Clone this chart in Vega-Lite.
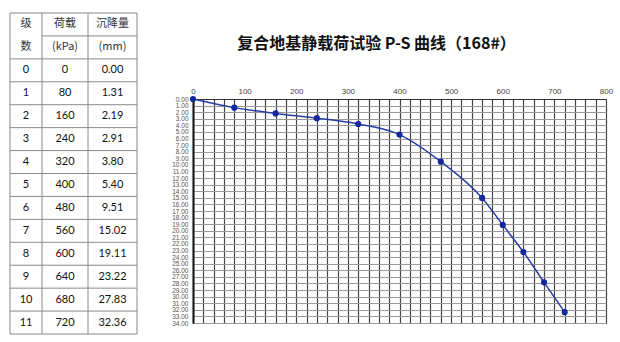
{
  "$schema": "https://vega.github.io/schema/vega-lite/v6.json",
  "background": "white",
  "padding": {"left": 9, "top": 12, "right": 5, "bottom": 5},
  "spacing": 33,
  "config": {"view": {"stroke": null}},
  "datasets": {
    "ps": [
      {"lvl": 0, "p": 0, "s": 0.00},
      {"lvl": 1, "p": 80, "s": 1.31},
      {"lvl": 2, "p": 160, "s": 2.19},
      {"lvl": 3, "p": 240, "s": 2.91},
      {"lvl": 4, "p": 320, "s": 3.80},
      {"lvl": 5, "p": 400, "s": 5.40},
      {"lvl": 6, "p": 480, "s": 9.51},
      {"lvl": 7, "p": 560, "s": 15.02},
      {"lvl": 8, "p": 600, "s": 19.11},
      {"lvl": 9, "p": 640, "s": 23.22},
      {"lvl": 10, "p": 680, "s": 27.83},
      {"lvl": 11, "p": 720, "s": 32.36}
    ],
    "hdr": [
      {"t": "级", "c": 0.5, "r": -2},
      {"t": "数", "c": 0.5, "r": -1},
      {"t": "荷载", "c": 1.5, "r": -2},
      {"t": "(kPa)", "c": 1.5, "r": -1},
      {"t": "沉降量", "c": 2.5, "r": -2},
      {"t": "(mm)", "c": 2.5, "r": -1}
    ]
  },
  "hconcat": [
    {
      "width": 127,
      "height": 235,
      "view": {"stroke": null},
      "data": {"name": "ps"},
      "encoding": {
        "x": {"type": "quantitative", "scale": {"domain": [0, 1, 2, 3], "range": [0, 32, 78, 127]}, "axis": null},
        "y": {"type": "quantitative", "scale": {"domain": [1.751, 12], "reverse": true, "nice": false, "zero": false}, "axis": null}
      },
      "layer": [
        {
          "mark": {"type": "rule", "color": "#8a8a8a", "strokeWidth": 1},
          "encoding": {"y": {"field": "lvl"}, "x": {"datum": 0}, "x2": {"datum": 3}}
        },
        {
          "data": {"values": [{}]},
          "mark": {"type": "rule", "color": "#8a8a8a", "strokeWidth": 1},
          "encoding": {"y": {"datum": 12}, "x": {"datum": 0}, "x2": {"datum": 3}}
        },
        {
          "data": {"values": [{}]},
          "mark": {"type": "rule", "color": "#8a8a8a", "strokeWidth": 1},
          "encoding": {"y": {"datum": -2}, "x": {"datum": 0}, "x2": {"datum": 3}}
        },
        {
          "data": {"values": [{}]},
          "mark": {"type": "rule", "color": "#8a8a8a", "strokeWidth": 1},
          "encoding": {"y": {"datum": -1}, "x": {"datum": 1}, "x2": {"datum": 3}}
        },
        {
          "data": {"values": [{}]},
          "mark": {"type": "rule", "color": "#8a8a8a", "strokeWidth": 1},
          "encoding": {"x": {"datum": 0}, "y": {"datum": -2}, "y2": {"datum": 12}}
        },
        {
          "data": {"values": [{}]},
          "mark": {"type": "rule", "color": "#8a8a8a", "strokeWidth": 1},
          "encoding": {"x": {"datum": 1}, "y": {"datum": -2}, "y2": {"datum": 12}}
        },
        {
          "data": {"values": [{}]},
          "mark": {"type": "rule", "color": "#8a8a8a", "strokeWidth": 1},
          "encoding": {"x": {"datum": 2}, "y": {"datum": -2}, "y2": {"datum": 12}}
        },
        {
          "data": {"values": [{}]},
          "mark": {"type": "rule", "color": "#8a8a8a", "strokeWidth": 1},
          "encoding": {"x": {"datum": 3}, "y": {"datum": -2}, "y2": {"datum": 12}}
        },
        {
          "mark": {"type": "text", "font": "Lato", "fontSize": 11, "color": "#111", "baseline": "middle", "dy": 11.5},
          "encoding": {"y": {"field": "lvl"}, "x": {"datum": 0.5}, "text": {"field": "lvl", "type": "quantitative", "format": "d"}}
        },
        {
          "mark": {"type": "text", "font": "Lato", "fontSize": 11, "color": "#111", "baseline": "middle", "dy": 11.5},
          "encoding": {"y": {"field": "lvl"}, "x": {"datum": 1.5}, "text": {"field": "p", "type": "quantitative", "format": "d"}}
        },
        {
          "mark": {"type": "text", "font": "Lato", "fontSize": 11, "color": "#111", "baseline": "middle", "dy": 11.5},
          "encoding": {"y": {"field": "lvl"}, "x": {"datum": 2.5}, "text": {"field": "s", "type": "quantitative", "format": ".2f"}}
        },
        {
          "data": {"name": "hdr"},
          "mark": {"type": "text", "font": "Noto Sans CJK SC", "fontSize": 11, "color": "#333", "baseline": "middle", "dy": 11},
          "encoding": {"y": {"field": "r", "type": "quantitative"}, "x": {"field": "c", "type": "quantitative"}, "text": {"field": "t"}}
        }
      ]
    },
    {
      "width": 413,
      "height": 224,
      "view": {"stroke": "#333", "strokeWidth": 1},
      "title": {
        "text": "复合地基静载荷试验 P-S 曲线（168#）",
        "font": "Noto Sans CJK SC",
        "fontSize": 16,
        "fontWeight": "bold",
        "color": "#111",
        "anchor": "middle",
        "frame": "group",
        "dx": -23,
        "offset": 35
      },
      "data": {"name": "ps"},
      "encoding": {
        "x": {
          "field": "p",
          "type": "quantitative",
          "scale": {"domain": [0, 800], "nice": false},
          "axis": {
            "orient": "top",
            "title": null,
            "values": [0,20,40,60,80,100,120,140,160,180,200,220,240,260,280,300,320,340,360,380,400,420,440,460,480,500,520,540,560,580,600,620,640,660,680,700,720,740,760,780,800],
            "labelExpr": "datum.value % 100 === 0 ? datum.label : ''",
            "labelOverlap": false,
            "labelFlush": false,
            "labelFont": "Liberation Sans",
            "labelFontSize": 8,
            "labelColor": "#444",
            "labelPadding": 4,
            "ticks": false,
            "grid": true,
            "gridColor": "#444",
            "gridWidth": 1.2,
            "gridOpacity": 1,
            "domainColor": "#333"
          }
        },
        "y": {
          "field": "s",
          "type": "quantitative",
          "scale": {"domain": [0, 34], "reverse": true, "nice": false},
          "axis": {
            "title": null,
            "values": [0,1,2,3,4,5,6,7,8,9,10,11,12,13,14,15,16,17,18,19,20,21,22,23,24,25,26,27,28,29,30,31,32,33,34],
            "format": ".2f",
            "labelOverlap": false,
            "labelFont": "Liberation Sans",
            "labelFontSize": 6.5,
            "labelColor": "#555",
            "labelPadding": 5,
            "ticks": false,
            "grid": true,
            "gridColor": "#9a9a9a",
            "gridOpacity": 1,
            "domainColor": "#111",
            "domainWidth": 2
          }
        }
      },
      "layer": [
        {"mark": {"type": "line", "interpolate": "monotone", "color": "#2a3da6", "strokeWidth": 1.5}},
        {"mark": {"type": "point", "shape": "circle", "filled": true, "size": 38, "color": "#1426a0", "opacity": 1}}
      ]
    }
  ]
}
